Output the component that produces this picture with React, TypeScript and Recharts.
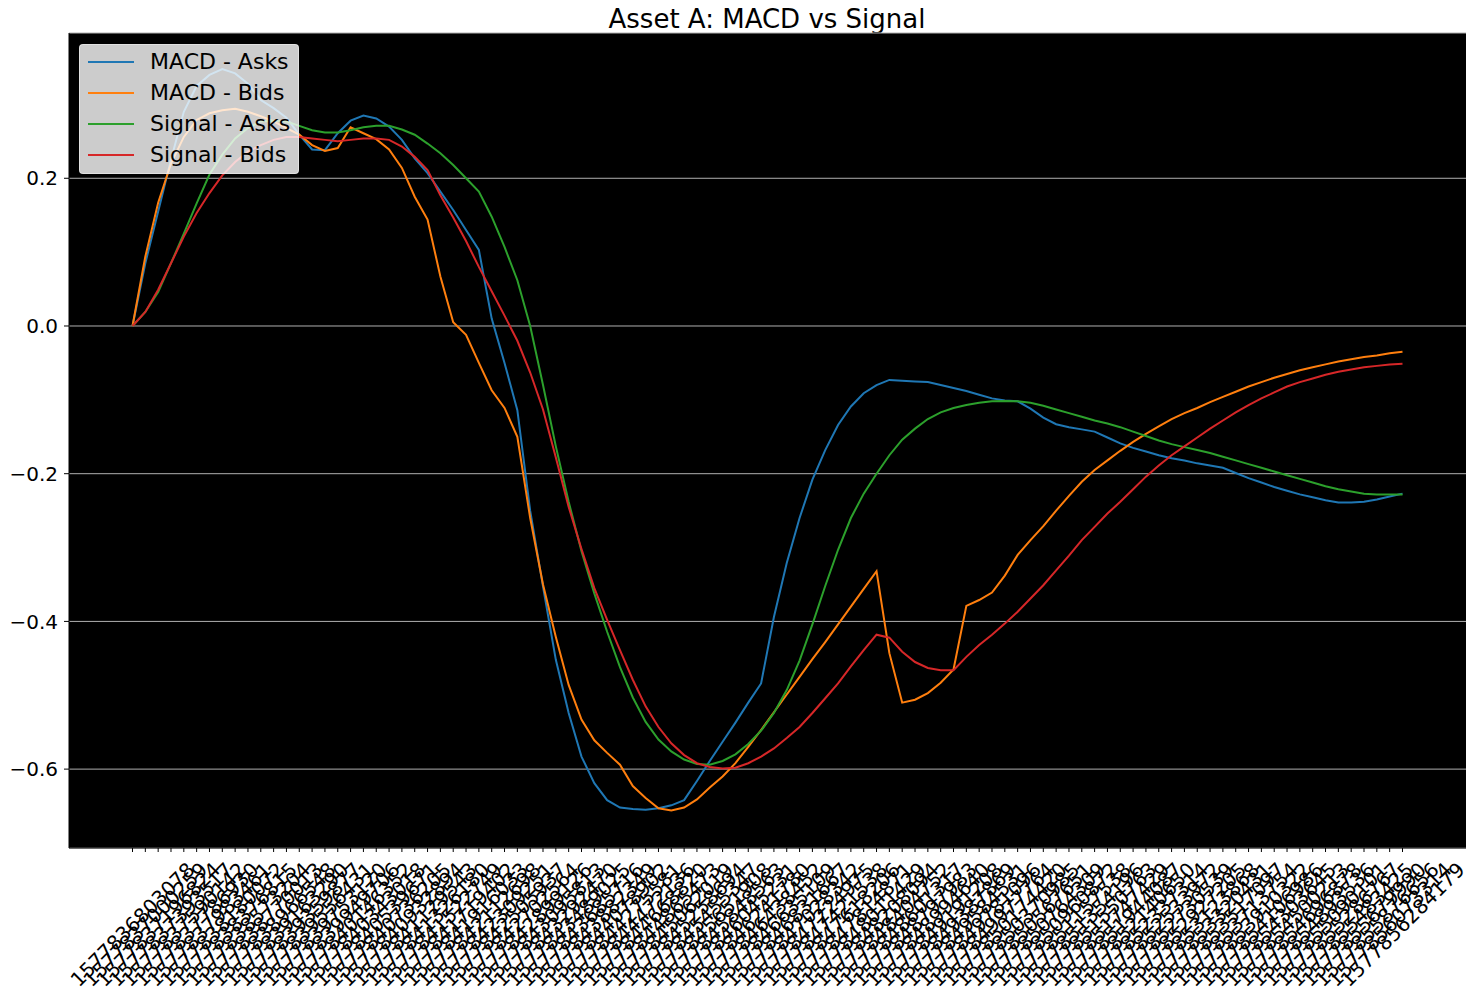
import React from "react";
import {
  LineChart,
  Line,
  XAxis,
  YAxis,
  CartesianGrid,
  Legend,
} from "recharts";

// timestamp tick labels (ms), one per sample
const timestamps = [
  "1577836803078", "1577837000259", "1577837196824", "1577837393517", "1577837590142",
  "1577837786930", "1577837983461", "1577838180072", "1577838376815", "1577838573204",
  "1577838770013", "1577838966548", "1577839163290", "1577839359877", "1577839556431",
  "1577839753120", "1577839949706", "1577840146352", "1577840343018", "1577840539671",
  "1577840736205", "1577840932894", "1577841129543", "1577841326180", "1577841522749",
  "1577841719402", "1577841916033", "1577842112698", "1577842309251", "1577842505937",
  "1577842702564", "1577842899126", "1577843095813", "1577843292470", "1577843489025",
  "1577843685716", "1577843882349", "1577844078902", "1577844275581", "1577844472136",
  "1577844668820", "1577844865473", "1577845062019", "1577845258694", "1577845455347",
  "1577845651908", "1577845848563", "1577846045231", "1577846241780", "1577846438452",
  "1577846635109", "1577846831667", "1577847028342", "1577847224975", "1577847421538",
  "1577847618206", "1577847814871", "1577848011429", "1577848208094", "1577848404752",
  "1577848601317", "1577848797983", "1577848994640", "1577849191208", "1577849387869",
  "1577849584531", "1577849781096", "1577849977764", "1577850174420", "1577850370985",
  "1577850567651", "1577850764309", "1577850960872", "1577851157538", "1577851354196",
  "1577851550763", "1577851747429", "1577851944087", "1577852140650", "1577852337314",
  "1577852533972", "1577852730539", "1577852927205", "1577853123868", "1577853320431",
  "1577853517097", "1577853713754", "1577853910322", "1577854106986", "1577854303645",
  "1577854500213", "1577854696878", "1577854893536", "1577855090101", "1577855286767",
  "1577855483425", "1577855679990", "1577855876656", "1577856073314", "1577856284179",
];

const macdAsks = [
  0, 0.085, 0.155, 0.225, 0.29, 0.325, 0.34, 0.348, 0.342, 0.328,
  0.306, 0.295, 0.282, 0.259, 0.239, 0.238, 0.261, 0.278, 0.285, 0.281,
  0.27, 0.252, 0.227, 0.207, 0.182, 0.157, 0.13, 0.103, 0.01, -0.05,
  -0.114, -0.25, -0.353, -0.452, -0.524, -0.583, -0.619, -0.642, -0.652, -0.654,
  -0.655, -0.653, -0.649, -0.642, -0.616, -0.589, -0.563, -0.537, -0.51, -0.484,
  -0.394, -0.321, -0.26, -0.208, -0.168, -0.134, -0.109, -0.091, -0.08, -0.073,
  -0.074, -0.075, -0.076, -0.08, -0.084, -0.088, -0.093, -0.098, -0.101, -0.102,
  -0.112, -0.124, -0.133, -0.137, -0.14, -0.143, -0.151, -0.159, -0.165, -0.17,
  -0.175, -0.179, -0.182, -0.186, -0.189, -0.192, -0.199, -0.206, -0.212, -0.218,
  -0.223, -0.228, -0.232, -0.236, -0.239, -0.239, -0.238, -0.235, -0.231, -0.227,
];

const macdBids = [
  0, 0.094, 0.167, 0.22, 0.256, 0.279, 0.288, 0.292, 0.294, 0.29,
  0.284, 0.277, 0.268, 0.259, 0.245, 0.237, 0.241, 0.269, 0.261, 0.253,
  0.239, 0.214, 0.175, 0.144, 0.067, 0.005, -0.012, -0.05, -0.087, -0.111,
  -0.15, -0.26, -0.35, -0.421, -0.486, -0.533, -0.561, -0.578, -0.594, -0.623,
  -0.639, -0.653, -0.656, -0.652, -0.641, -0.625, -0.61, -0.592, -0.57, -0.547,
  -0.523, -0.499, -0.475, -0.451, -0.428, -0.404, -0.38, -0.356, -0.332, -0.443,
  -0.51, -0.506, -0.497, -0.483, -0.465, -0.379, -0.371, -0.361, -0.338, -0.31,
  -0.29, -0.271, -0.25, -0.23, -0.211, -0.195, -0.182, -0.169, -0.157, -0.146,
  -0.136, -0.126, -0.118, -0.111, -0.103, -0.096, -0.089, -0.082, -0.076, -0.07,
  -0.065, -0.06, -0.056, -0.052, -0.048, -0.045, -0.042, -0.04, -0.037, -0.035,
];

const signalAsks = [
  0, 0.019, 0.046, 0.085, 0.125, 0.166, 0.205, 0.232, 0.254, 0.268,
  0.277, 0.278, 0.277, 0.271, 0.265, 0.262, 0.262, 0.265, 0.269, 0.271,
  0.271, 0.266, 0.259, 0.247, 0.234, 0.218, 0.2, 0.182, 0.148, 0.107,
  0.062, 0.0, -0.08, -0.163, -0.238, -0.305, -0.362, -0.414, -0.462, -0.503,
  -0.536, -0.56, -0.576, -0.587, -0.593, -0.594, -0.589, -0.58, -0.566, -0.548,
  -0.524, -0.493, -0.453, -0.404, -0.352, -0.303, -0.26, -0.227, -0.2, -0.175,
  -0.154, -0.139, -0.126, -0.117, -0.111, -0.107, -0.104, -0.102, -0.1015, -0.102,
  -0.104, -0.108, -0.113, -0.118, -0.123, -0.128, -0.132, -0.137, -0.143, -0.149,
  -0.155, -0.16, -0.164, -0.168, -0.172, -0.177, -0.182, -0.187, -0.192, -0.197,
  -0.202, -0.207, -0.212, -0.217, -0.221, -0.224, -0.227, -0.228, -0.228, -0.228,
];

const signalBids = [
  0, 0.019, 0.049, 0.085, 0.121, 0.153, 0.18, 0.204, 0.222, 0.236,
  0.245, 0.252, 0.256, 0.256, 0.254, 0.252, 0.25, 0.252, 0.254, 0.254,
  0.252, 0.243, 0.229, 0.211, 0.177, 0.147, 0.115, 0.08, 0.047, 0.014,
  -0.02, -0.063, -0.113, -0.178, -0.245, -0.302, -0.355, -0.398, -0.439, -0.479,
  -0.515, -0.543, -0.565, -0.581, -0.592, -0.597, -0.599, -0.598, -0.592, -0.583,
  -0.572, -0.558, -0.543, -0.524, -0.504, -0.484, -0.461, -0.439, -0.418, -0.422,
  -0.441, -0.455, -0.463, -0.466, -0.466, -0.448, -0.432, -0.418, -0.403, -0.387,
  -0.369, -0.351, -0.331, -0.311, -0.29, -0.272, -0.254, -0.238, -0.221, -0.204,
  -0.189, -0.175, -0.163, -0.151, -0.139, -0.128, -0.117, -0.107, -0.098, -0.09,
  -0.082, -0.076, -0.071, -0.066, -0.062, -0.059, -0.056, -0.054, -0.052, -0.051,
];

const yTicks = [-0.6, -0.4, -0.2, 0, 0.2];

const series = [
  { key: "macdAsks", name: "MACD - Asks", color: "#1f77b4" },
  { key: "macdBids", name: "MACD - Bids", color: "#ff7f0e" },
  { key: "signalAsks", name: "Signal - Asks", color: "#2ca02c" },
  { key: "signalBids", name: "Signal - Bids", color: "#d62728" },
];

const data = timestamps.map((t, i) => ({
  t,
  macdAsks: macdAsks[i],
  macdBids: macdBids[i],
  signalAsks: signalAsks[i],
  signalBids: signalBids[i],
}));

const FONT = "DejaVu Sans";
const TICK_FONT = 20;

const formatY = (v: number) => v.toFixed(1).replace("-", "\u2212");

// rotated 45deg, bbox centred under the tick like matplotlib
const XTick = (props: any) => {
  const { x, y, payload } = props;
  const label = String(payload.value);
  const len = label.length * 0.636 * TICK_FONT;
  const half = ((len + 23) * Math.SQRT1_2) / 2;
  return (
    <g transform={`translate(${x},${y + 6 + half})`}>
      <text
        textAnchor="middle"
        dominantBaseline="central"
        transform="rotate(-45)"
        fontSize={TICK_FONT}
        fontFamily={FONT}
        fill="#000"
      >
        {label}
      </text>
    </g>
  );
};

const renderLegend = () => (
  <div
    style={{
      position: "relative",
      width: 220,
      height: 130,
      boxSizing: "border-box",
      background: "rgba(255,255,255,0.8)",
      border: "1px solid rgba(230,230,230,0.8)",
      borderRadius: 4,
      fontFamily: FONT,
      fontSize: 22,
      color: "#000",
    }}
  >
    {series.map((s, i) => (
      <React.Fragment key={s.key}>
        <div
          style={{
            position: "absolute",
            left: 8,
            top: 16 + 31 * i,
            width: 46,
            height: 2,
            background: s.color,
          }}
        />
        <div
          style={{
            position: "absolute",
            left: 70,
            top: 4 + 31 * i,
            lineHeight: "26px",
            whiteSpace: "nowrap",
          }}
        >
          {s.name}
        </div>
      </React.Fragment>
    ))}
  </div>
);

export default function App() {
  return (
    <div
      style={{
        position: "absolute",
        left: 0,
        top: 0,
        width: 1477,
        height: 1005,
        background: "#fff",
      }}
    >
      <svg
        width={1477}
        height={40}
        style={{ position: "absolute", left: 0, top: 0, pointerEvents: "none" }}
      >
        <text x={767} y={28} textAnchor="middle" fontSize={26} fontFamily={FONT} fill="#000">
          Asset A: MACD vs Signal
        </text>
      </svg>
      <LineChart
        width={1477}
        height={1005}
        data={data}
        margin={{ top: 33, right: 11, left: 0, bottom: 0 }}
      >
        <CartesianGrid
          vertical={false}
          stroke="#b0b0b0"
          strokeWidth={1}
          fill="#000"
          fillOpacity={1}
        />
        <XAxis
          dataKey="t"
          interval={0}
          height={157}
          tickSize={4}
          tickMargin={0}
          padding={{ left: 63.5, right: 63.5 }}
          axisLine={{ stroke: "#000" }}
          tickLine={{ stroke: "#000" }}
          tick={XTick}
        />
        <YAxis
          type="number"
          width={69}
          domain={[-0.7068, 0.3967]}
          allowDataOverflow
          ticks={yTicks}
          tickFormatter={formatY}
          tickSize={5}
          tickMargin={6}
          axisLine={{ stroke: "#000" }}
          tickLine={{ stroke: "#000" }}
          tick={{ fill: "#000", fontSize: TICK_FONT, fontFamily: FONT }}
        />
        <Legend
          layout="vertical"
          align="center"
          verticalAlign="middle"
          content={renderLegend}
          wrapperStyle={{ left: 79, top: 44, width: 220, height: 130 }}
        />
        {series.map((s) => (
          <Line
            key={s.key}
            type="linear"
            dataKey={s.key}
            name={s.name}
            stroke={s.color}
            strokeWidth={2}
            dot={false}
            activeDot={false}
            isAnimationActive={false}
          />
        ))}
      </LineChart>
    </div>
  );
}
